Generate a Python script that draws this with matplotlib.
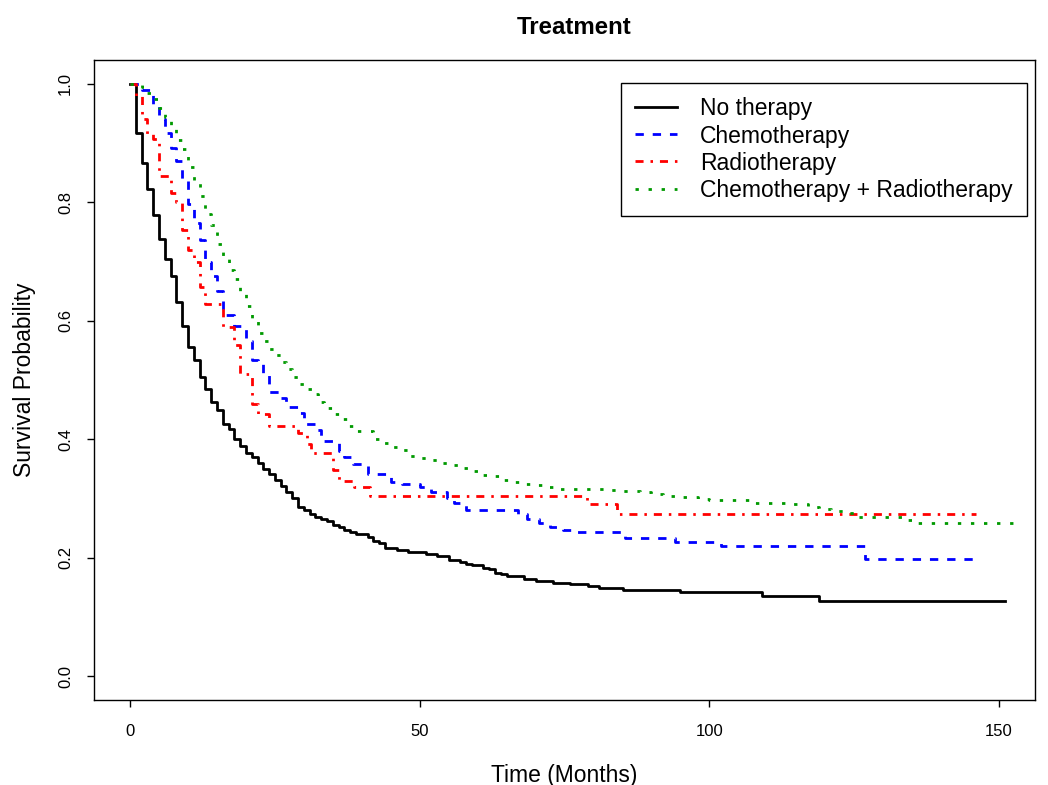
import matplotlib
matplotlib.use("Agg")
import matplotlib.pyplot as plt

plt.rcParams["font.family"] = ["Liberation Sans", "DejaVu Sans"]

# Kaplan-Meier estimates (time in months, survival)
none_t = [0, 1, 2, 3, 4, 5, 6, 7, 8, 9, 10, 11, 12, 13, 14, 15, 16, 17, 18, 19,
          20, 21, 22, 23, 24, 25, 26, 27, 28, 29, 30, 31, 32, 33, 34, 35, 36, 37, 38, 39,
          41, 42, 43, 44, 46, 48, 51, 53, 55, 57, 58, 59, 61, 62, 63, 64, 65, 68, 70, 73,
          76, 79, 81, 85, 95, 109, 119, 151]
none_s = [1, .917, .867, .822, .778, .738, .705, .676, .632, .591,
          .556, .534, .505, .484, .462, .449, .426, .418, .400, .389,
          .376, .370, .360, .349, .341, .331, .321, .311, .300, .286,
          .280, .274, .268, .265, .261, .255, .251, .247, .243, .240,
          .235, .228, .224, .216, .213, .210, .206, .203, .196, .193,
          .190, .1875, .182, .180, .1745, .1717, .169, .164, .1605, .1577,
          .155, .152, .1486, .1453, .142, .1357, .1267, .1267]

chemo_t = [0, 2, 4, 5, 6, 7, 8, 9, 10, 11, 12, 13, 14, 15, 16, 18, 20, 21, 22, 23,
           24, 26, 27, 29, 30, 32, 33, 36, 37, 38.5, 41, 45, 47, 50, 52, 54.7, 56, 58,
           67, 68.5, 70.5, 72.5, 74.8, 77.2, 85.5, 94, 102, 126.8, 146.5]
chemo_s = [1, .99, .965, .94, .917, .892, .870, .84, .798, .765,
           .7365, .70, .675, .651, .61, .591, .565, .5345, .527, .508,
           .48, .47, .455, .445, .426, .415, .397, .38, .37, .358,
           .341, .327, .324, .319, .311, .30, .293, .28, .273, .265,
           .258, .251, .2466, .2427, .2326, .2264, .2191, .197, .197]

radio_t = [0, 1, 2, 3, 4, 5, 7, 8, 9, 10, 11, 12, 13, 16, 18, 19, 21, 22, 24, 29,
           30.5, 31.3, 35, 36, 38.7, 41.5, 78.8, 84, 146]
radio_s = [1, .98, .94, .9155, .907, .845, .815, .80, .754, .72,
           .70, .657, .628, .589, .559, .51, .46, .442, .422, .41,
           .392, .376, .348, .33, .319, .3045, .2905, .273, .273]

combo_t = [0, 2, 3, 4, 5, 6, 7, 8, 9, 10, 11, 12, 13, 14, 15, 16, 17, 18, 19, 20,
           21, 22, 23, 24, 25, 26, 27, 28, 29, 30.5, 31.5, 32.5, 33.5, 35, 36, 37.5,
           39, 42, 43.5, 45, 47, 48, 50, 52, 53.5, 55.5, 57, 59, 60.5, 62.5, 64, 66,
           68, 70, 71.5, 73.5, 82, 84, 88, 90, 92, 94, 98, 100, 107, 113, 117, 119,
           121, 123, 125, 133.5, 135, 153.4]
combo_s = [1, .995, .985, .975, .96, .945, .93, .905, .89, .86,
           .835, .81, .78, .762, .73, .71, .685, .67, .645, .625,
           .60, .579, .566, .553, .542, .53, .518, .505, .494, .484,
           .476, .463, .452, .442, .434, .423, .414, .40, .393, .386,
           .382, .372, .369, .365, .36, .356, .352, .347, .34, .337,
           .331, .327, .325, .3226, .319, .316, .314, .3125, .31, .307,
           .304, .302, .2985, .297, .293, .290, .286, .282, .279, .275,
           .269, .2635, .258, .258]

labels = ["No therapy", "Chemotherapy", "Radiotherapy", "Chemotherapy + Radiotherapy"]
x_ticks = [0, 50, 100, 150]
y_ticks = [0.0, 0.2, 0.4, 0.6, 0.8, 1.0]

fig = plt.figure(figsize=(10.48, 7.85), dpi=100)
ax = fig.add_axes([0.0895, 0.1083, 0.8981, 0.8153])

ax.step(none_t, none_s, where="post", color="black", lw=2, label=labels[0])
ax.step(chemo_t, chemo_s, where="post", color="blue", lw=2,
        dashes=(3.0, 3.2), label=labels[1])
ax.step(radio_t, radio_s, where="post", color="red", lw=2,
        dashes=(2.9, 2.5, 0.9, 2.5), label=labels[2])
ax.step(combo_t, combo_s, where="post", color="#009900", lw=2,
        dashes=(1.2, 3.5), label=labels[3])

ax.set_xlim(-6.26, 156.2)
ax.set_ylim(-0.0405, 1.0405)
ax.set_xticks(x_ticks)
ax.set_xticklabels([str(v) for v in x_ticks])
ax.set_yticks(y_ticks)
ax.set_yticklabels([f"{v:.1f}" for v in y_ticks], rotation=90, va="center")
ax.tick_params(direction="out", length=5, width=1, labelsize=12)
ax.tick_params(axis="x", pad=12)
ax.tick_params(axis="y", pad=10)
for s in ax.spines.values():
    s.set_linewidth(1)

ax.set_xlabel("Time (Months)", fontsize=16.5, labelpad=18)
ax.set_ylabel("Survival Probability", fontsize=16.5, labelpad=16)
ax.set_title("Treatment", fontsize=17.3, fontweight="bold", pad=19, x=0.5102)

leg = ax.legend(loc="upper right", bbox_to_anchor=(0.9797, 0.8939),
                bbox_transform=fig.transFigure, borderaxespad=0,
                fontsize=16.5, handlelength=1.83, handletextpad=1.0,
                labelspacing=0.175, borderpad=0.62, fancybox=False,
                framealpha=1, edgecolor="black")
leg.get_frame().set_linewidth(1)

plt.savefig("out.png", dpi=100)
